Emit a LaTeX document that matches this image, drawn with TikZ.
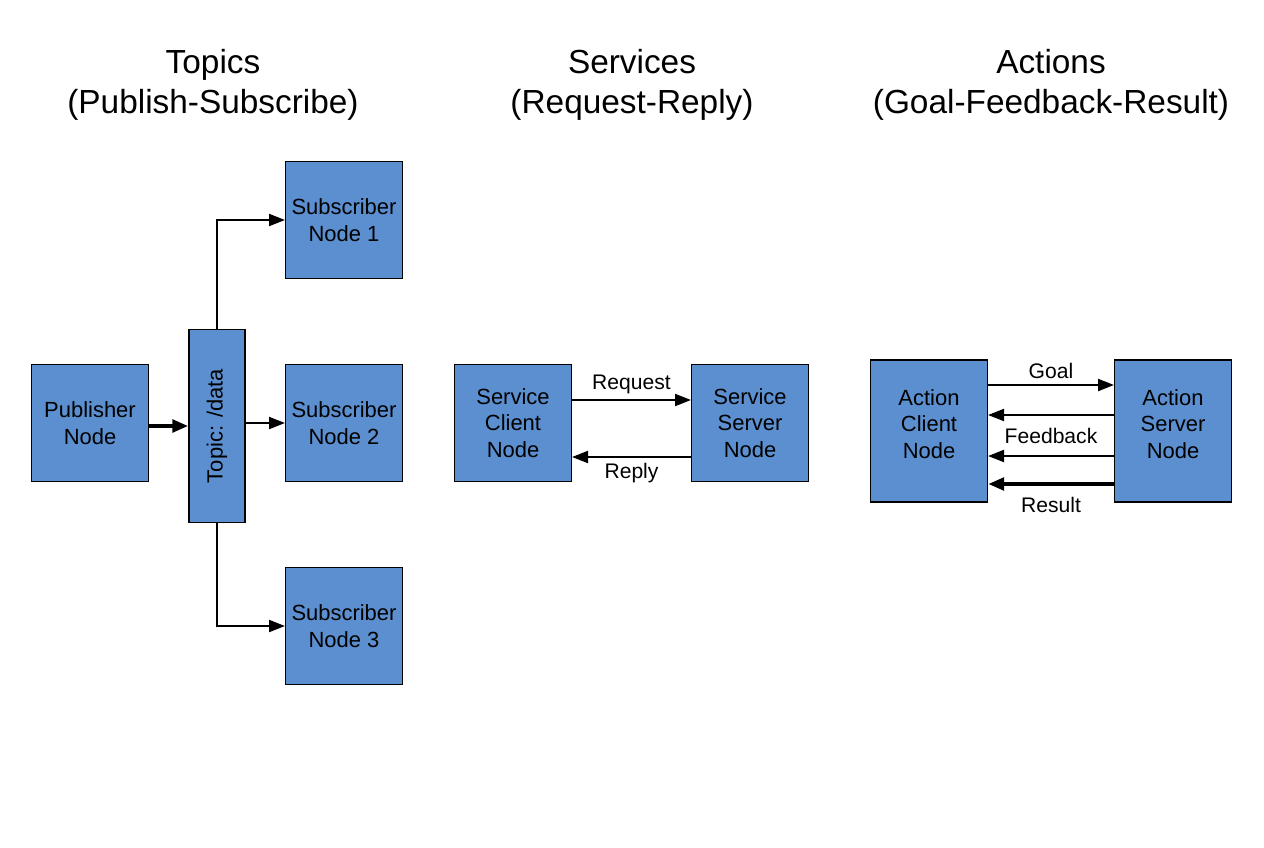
\documentclass[tikz,border=0pt]{standalone}
\usepackage{fontspec}
\setmainfont{Liberation Sans}
\usetikzlibrary{arrows.meta,positioning}
\definecolor{boxblue}{HTML}{5B8FCF}
\tikzset{
  box/.style={draw,thick,fill=boxblue,minimum width=2.34cm,minimum height=2.34cm,inner sep=0pt,align=center,font=\fontsize{12.5}{15}\selectfont},
  title/.style={align=center,font=\fontsize{19}{23}\selectfont},
  lbl/.style={font=\fontsize{12}{14}\selectfont},
  arr/.style={->,>={Triangle[length=9pt,width=7pt]},semithick},
  fat/.style={arr,line width=2.5pt}
}
\begin{document}
\begin{tikzpicture}[x=0.02cm,y=-0.02cm]
\useasboundingbox (0,0) rectangle (1264,848);
% titles
\node[title] (t1) at (213,85) {Topics\\(Publish-Subscribe)};
\node[title] (t2) at (632,85) {Services\\(Request-Reply)};
\node[title] (t3) at (1051,85) {Actions\\(Goal-Feedback-Result)};

% topics
\node[box] (pub) at (90,423) {Publisher\\Node};
\node[box,minimum width=1.12cm,minimum height=3.86cm] (topic) at (217,426) {};
\node[rotate=90,font=\fontsize{12.5}{15}\selectfont] (tlab) at (217,426) {Topic: /data};
\node[box] (s1) at (344,220) {Subscriber\\Node 1};
\node[box] (s2) at (344,423) {Subscriber\\Node 2};
\node[box] (s3) at (344,626) {Subscriber\\Node 3};
\draw[fat] (pub.east |- 0,426) -- (topic.west |- 0,426);
\draw[arr] (topic.north) |- (s1.west);
\draw[arr] (topic.east |- s2) -- (s2.west);
\draw[arr] (topic.south) |- (s3.west);

% services
\node[box] (cli) at (513,423) {Service\\Client\\Node};
\node[box] (srv) at (750,423) {Service\\Server\\Node};
\draw[arr] (cli.east |- 0,400) -- node[lbl,above] (req) {Request} (srv.west |- 0,400);
\draw[arr] (srv.west |- 0,457) -- node[lbl,below] (rep) {Reply} (cli.east |- 0,457);

% actions
\node[box,minimum height=2.84cm] (acli) at (929,431) {};
\node[box,minimum height=2.84cm] (asrv) at (1173,431) {};
\node[box,draw=none,fill=none] (aclit) at (929,424) {Action\\Client\\Node};
\node[box,draw=none,fill=none] (asrvt) at (1173,424) {Action\\Server\\Node};
\draw[arr] (acli.east |- 0,385) -- node[lbl,above] (goal) {Goal} (asrv.west |- 0,385);
\draw[arr] (asrv.west |- 0,415) -- (acli.east |- 0,415);
\draw[arr] (asrv.west |- 0,456) -- (acli.east |- 0,456);
\node[lbl] (fb) at (1051,436) {Feedback};
\draw[fat] (asrv.west |- 0,484) -- node[lbl,below=3pt] (res) {Result} (acli.east |- 0,484);
\end{tikzpicture}
\end{document}
